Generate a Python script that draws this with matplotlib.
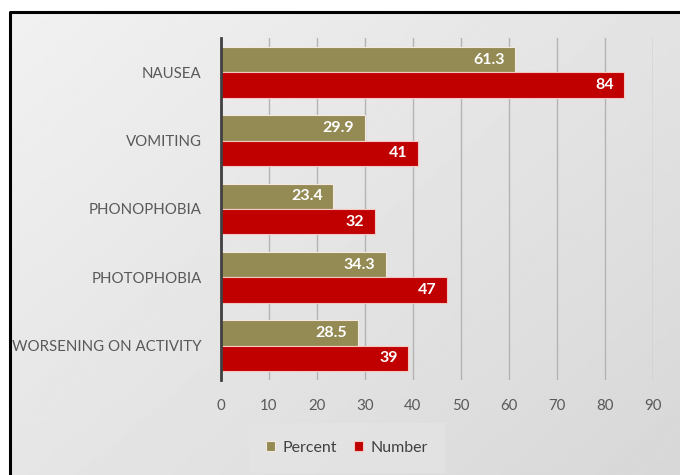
import numpy as np
import matplotlib
matplotlib.use("Agg")
import matplotlib.pyplot as plt

# data
symptoms = ["NAUSEA", "VOMITING", "PHONOPHOBIA", "PHOTOPHOBIA", "WORSENING ON ACTIVITY"]
percent = [61.3, 29.9, 23.4, 34.3, 28.5]
number = [84, 41, 32, 47, 39]
xticks = [0, 10, 20, 30, 40, 50, 60, 70, 80, 90]

plt.rcParams['font.family'] = ['Lato', 'DejaVu Sans']

W, H = 680, 475
fig = plt.figure(figsize=(W / 100, H / 100), dpi=100)

# background: gradient panel with black frame on top/left
bg = fig.add_axes([0, 0, 1, 1], zorder=-10)
bg.set_xlim(0, W)
bg.set_ylim(H, 0)
bg.axis("off")
xx, yy = np.meshgrid(np.linspace(0, 1, 200), np.linspace(0, 1, 200))
grad = 0.945 - 0.10 * (0.55 * xx + 0.45 * yy)
bg.imshow(grad, cmap="gray", vmin=0, vmax=1, extent=[10, W, H, 12],
          aspect="auto", interpolation="bilinear")
bg.plot([10, 10, W], [H, 12, 12], color="black", lw=2.2, solid_capstyle="butt")

ax = fig.add_axes([221 / W, 1 - 380 / H, (653 - 221) / W, (380 - 38) / H])
ax.patch.set_alpha(0)

y = np.arange(len(symptoms))
h = 0.37
olive = "#948a54"
red = "#c00000"
b1 = ax.barh(y - h / 2, percent, height=h, color=olive, edgecolor="#f4e8e0",
             linewidth=0.8, label="Percent", zorder=3)
b2 = ax.barh(y + h / 2, number, height=h, color=red, edgecolor="#f4c8c0",
             linewidth=0.8, label="Number", zorder=3)

for bars, vals in ((b1, percent), (b2, number)):
    for rect, v in zip(bars, vals):
        ax.text(rect.get_width() - 2.2, rect.get_y() + rect.get_height() / 2,
                f"{v:g}", ha="right", va="center", color="white",
                fontsize=11.5, fontweight="bold", zorder=4)

ax.set_xlim(0, 90)
ax.set_ylim(len(symptoms) - 0.5, -0.5)
ax.set_xticks(xticks)
ax.set_yticks(y)
ax.set_yticklabels(symptoms)
ax.xaxis.grid(True, color="#b4b4b4", lw=1.0, zorder=1)
ax.tick_params(axis="both", length=0, labelsize=10.8, labelcolor="#595959")
ax.tick_params(axis="x", pad=14)
ax.tick_params(axis="y", pad=14)
for s in ("top", "right", "bottom"):
    ax.spines[s].set_visible(False)
ax.spines["left"].set_color("#404040")
ax.spines["left"].set_linewidth(2)
ax.spines["left"].set_zorder(5)

leg = fig.legend(handles=[b1, b2], loc="center", bbox_to_anchor=(347 / W, 1 - 448 / H),
                 ncol=2, frameon=True, fontsize=11.5, handlelength=0.55, handleheight=0.6,
                 handletextpad=0.45, columnspacing=1.1, borderpad=0.7)
leg.get_frame().set_facecolor("#e4e4e4")
leg.get_frame().set_edgecolor("none")
leg.get_frame().set_alpha(0.8)
leg.get_frame().set_boxstyle("square", pad=0.4)
for t in leg.get_texts():
    t.set_color("#404040")

fig.savefig("out.png", dpi=100)
